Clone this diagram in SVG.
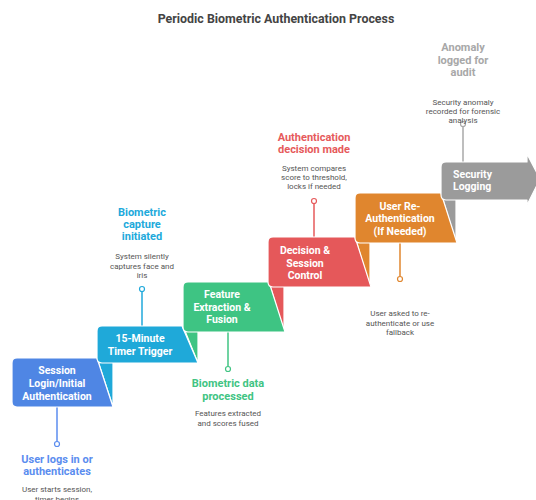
<svg xmlns="http://www.w3.org/2000/svg" width="536" height="500" viewBox="0 0 536 500">
<style>
.shape{stroke:#fff;stroke-width:1.2;stroke-linejoin:round}
.nt{font-family:Roboto,"Liberation Sans",sans-serif;font-weight:bold;font-size:10.5px;fill:#fff;text-anchor:middle}
.nts{font-family:Roboto,"Liberation Sans",sans-serif;font-weight:bold;font-size:10.5px;fill:#fff;text-anchor:start}
.lb{font-family:Roboto,"Liberation Sans",sans-serif;font-weight:bold;font-size:11px;text-anchor:middle}
.ds{font-family:Roboto,"Liberation Sans",sans-serif;font-size:8px;fill:#555;text-anchor:middle}
.ln{stroke-width:1.5;fill:none}
.dot{fill:#fff;stroke-width:1.2}
</style>
<rect width="536" height="500" fill="#fff"/>
<text x="276" y="23" font-family="Roboto,'Liberation Sans',sans-serif" font-weight="bold" font-size="12.4" fill="#444" text-anchor="middle">Periodic Biometric Authentication Process</text>

<g id="tails">
<polygon class="shape" fill="#1FA9D9" points="97,358 113,358 113,407"/>
<polygon class="shape" fill="#3EC483" points="183,326 198,326 198,363"/>
<polygon class="shape" fill="#E5585A" points="269,282 284,282 284,332"/>
<polygon class="shape" fill="#E0862E" points="355,237 370,237 370,287"/>
<polygon class="shape" fill="#9B9B9B" points="441,193 456,193 456,243"/>
</g>

<g id="connectors">
<line class="ln" stroke="#5B8DEF" x1="57" y1="407" x2="57" y2="441.5"/>
<circle class="dot" stroke="#5B8DEF" cx="57" cy="444" r="2.5"/>
<line class="ln" stroke="#21A9DB" x1="142" y1="326" x2="142" y2="291.5"/>
<circle class="dot" stroke="#21A9DB" cx="142" cy="289" r="2.5"/>
<line class="ln" stroke="#41C483" x1="228" y1="332" x2="228" y2="366.5"/>
<circle class="dot" stroke="#41C483" cx="228" cy="369" r="2.5"/>
<line class="ln" stroke="#E65A5B" x1="314" y1="237" x2="314" y2="203.5"/>
<circle class="dot" stroke="#E65A5B" cx="314" cy="201" r="2.5"/>
<line class="ln" stroke="#E0862E" x1="400" y1="243" x2="400" y2="276.5"/>
<circle class="dot" stroke="#E0862E" cx="400" cy="279" r="2.5"/>
<line class="ln" stroke="#A8A8A8" x1="463" y1="162" x2="463" y2="126.5"/>
<circle class="dot" stroke="#A8A8A8" cx="463" cy="124" r="2.5"/>
</g>

<g id="step1">
<path class="shape" fill="#4F86E4" d="M17,358 H97 L113,407 H17 Q12,407 12,402 V363 Q12,358 17,358 Z"/>
<text class="nt" x="57" y="374">Session</text>
<text class="nt" x="57" y="387">Login/Initial</text>
<text class="nt" x="57" y="400">Authentication</text>
<text class="lb" fill="#5B8DEF" x="57" y="463">User logs in or</text>
<text class="lb" fill="#5B8DEF" x="57" y="475">authenticates</text>
<text class="ds" x="57" y="492">User starts session,</text>
<text class="ds" x="57" y="502">timer begins</text>
</g>

<g id="step2">
<path class="shape" fill="#1FA9D9" d="M102,326 H182 L198,363 H102 Q97,363 97,358 V331 Q97,326 102,326 Z"/>
<text class="nt" x="140" y="342">15-Minute</text>
<text class="nt" x="140" y="355">Timer Trigger</text>
<text class="lb" fill="#21A9DB" x="142" y="216">Biometric</text>
<text class="lb" fill="#21A9DB" x="142" y="228">capture</text>
<text class="lb" fill="#21A9DB" x="142" y="240">initiated</text>
<text class="ds" x="142" y="259">System silently</text>
<text class="ds" x="142" y="268.5">captures face and</text>
<text class="ds" x="142" y="278">iris</text>
</g>

<g id="step3">
<path class="shape" fill="#3EC483" d="M188,282 H269 L285,332 H188 Q183,332 183,327 V287 Q183,282 188,282 Z"/>
<text class="nt" x="222" y="298">Feature</text>
<text class="nt" x="222" y="310.5">Extraction &amp;</text>
<text class="nt" x="222" y="323">Fusion</text>
<text class="lb" fill="#41C483" x="228" y="387">Biometric data</text>
<text class="lb" fill="#41C483" x="228" y="400">processed</text>
<text class="ds" x="228" y="416">Features extracted</text>
<text class="ds" x="228" y="426">and scores fused</text>
</g>

<g id="step4">
<path class="shape" fill="#E5585A" d="M273,237 H355 L371,287 H273 Q268,287 268,282 V242 Q268,237 273,237 Z"/>
<text class="nt" x="305" y="254">Decision &amp;</text>
<text class="nt" x="305" y="267">Session</text>
<text class="nt" x="305" y="279">Control</text>
<text class="lb" fill="#E65A5B" x="314" y="141">Authentication</text>
<text class="lb" fill="#E65A5B" x="314" y="153">decision made</text>
<text class="ds" x="314" y="171">System compares</text>
<text class="ds" x="314" y="180">score to threshold,</text>
<text class="ds" x="314" y="189">locks if needed</text>
</g>

<g id="step5">
<path class="shape" fill="#E0862E" d="M360,193 H441 L457,243 H360 Q355,243 355,238 V198 Q355,193 360,193 Z"/>
<text class="nt" x="400" y="210">User Re-</text>
<text class="nt" x="400" y="222">Authentication</text>
<text class="nt" x="400" y="235">(If Needed)</text>
<text class="ds" x="400" y="316">User asked to re-</text>
<text class="ds" x="400" y="326">authenticate or use</text>
<text class="ds" x="400" y="335">fallback</text>
</g>

<g id="step6">
<path class="shape" fill="#9B9B9B" d="M446,162 H527 V154 L540,179 L527,205 V200 H446 Q441,200 441,195 V167 Q441,162 446,162 Z"/>
<text class="nts" x="453" y="178">Security</text>
<text class="nts" x="453" y="190">Logging</text>
<text class="lb" fill="#A8A8A8" x="463" y="51">Anomaly</text>
<text class="lb" fill="#A8A8A8" x="463" y="64">logged for</text>
<text class="lb" fill="#A8A8A8" x="463" y="76">audit</text>
<text class="ds" x="463" y="105">Security anomaly</text>
<text class="ds" x="463" y="114">recorded for forensic</text>
<text class="ds" x="463" y="123">analysis</text>
</g>
</svg>
